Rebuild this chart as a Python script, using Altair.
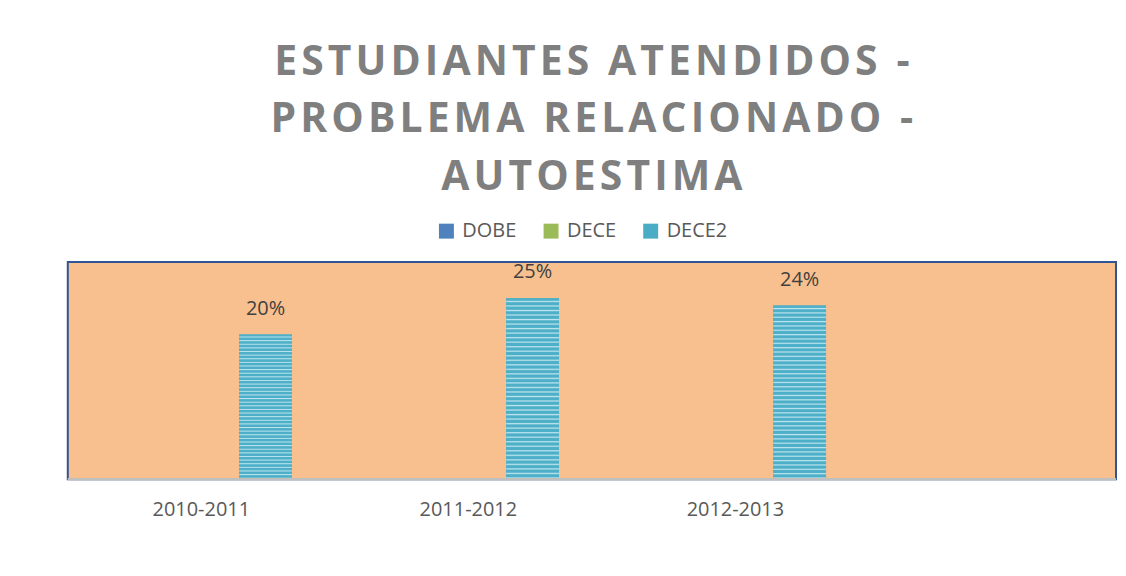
import altair as alt
import pandas as pd

# ---- data ----
years = ["2010-2011", "2011-2012", "2012-2013"]
series_names = ["DOBE", "DECE", "DECE2"]
series_colors = ["#4F81BD", "#9BBB59", "#4BACC6"]
dece2_values = [0.20, 0.25, 0.24]

title_lines = ["ESTUDIANTES ATENDIDOS -", "PROBLEMA RELACIONADO -", "AUTOESTIMA"]

df = pd.DataFrame({
    "periodo": years,
    "serie": ["DECE2"] * len(years),
    "valor": dece2_values,
})

# striped fill for the bars (horizontal stripes)
n_stripes = 40
stops = []
for i in range(n_stripes):
    o = i / n_stripes
    stops.append({"offset": o, "color": "#4DAFC8"})
    stops.append({"offset": o + 0.45 / n_stripes, "color": "#4DAFC8"})
    stops.append({"offset": o + 0.7 / n_stripes, "color": "#BDE4EE"})
stops.append({"offset": 1.0, "color": "#4DAFC8"})
stripe_fill = {"gradient": "linear", "x1": 0, "y1": 0, "x2": 0, "y2": 1, "stops": stops}

x_enc = alt.X("periodo:N",
              scale=alt.Scale(domain=years, paddingInner=0, paddingOuter=0, range=[0, 804]),
              axis=alt.Axis(title=None, ticks=False, domain=False, labelPadding=20,
                            labelFontSize=20, labelColor="#595959", labelFont="Open Sans",
                            labelAngle=0))
xoff_enc = alt.XOffset("serie:N", scale=alt.Scale(domain=series_names, paddingInner=0.178,
                                                  paddingOuter=0.667))
y_enc = alt.Y("valor:Q", scale=alt.Scale(domain=[0, 0.30]), axis=None)

base = alt.Chart(df)

bars_legend = base.mark_bar().encode(
    x=x_enc, xOffset=xoff_enc, y=y_enc,
    color=alt.Color("serie:N",
                    scale=alt.Scale(domain=series_names, range=series_colors),
                    legend=alt.Legend(title=None, orient="none", direction="horizontal",
                                      legendX=370, legendY=-41, symbolType="square",
                                      symbolSize=225, symbolStrokeWidth=0,
                                      labelFontSize=20, labelFont="Open Sans",
                                      labelColor="#595959", labelOffset=6,
                                      columnPadding=24, padding=0)),
)

bars_stripes = base.mark_bar(fill=stripe_fill).encode(
    x=x_enc, xOffset=xoff_enc, y=y_enc,
)

labels = base.mark_text(baseline="alphabetic", dy=-20, fontSize=20, font="Open Sans",
                        color="#404040").encode(
    x=x_enc, xOffset=xoff_enc, y=y_enc,
    text=alt.Text("valor:Q", format=".0%"),
)

# bottom axis line (category axis baseline)
baseline = alt.Chart(pd.DataFrame({"valor": [0.0]})).mark_rule(
    color="#BFBFBF", strokeWidth=2.5
).encode(y=alt.Y("valor:Q", scale=alt.Scale(domain=[0, 0.30]), axis=None))

spaced_title = ["\u200a".join(list(line)) for line in title_lines]

chart = alt.layer(bars_legend, bars_stripes, labels, baseline).properties(
    width=1052,
    height=218,
    background="white",
    padding={"left": 58, "top": 33, "right": 0, "bottom": 10},
    title=alt.TitleParams(text=spaced_title, fontSize=41, font="Open Sans", fontWeight="bold",
                          color="#7F7F7F", lineHeight=58, anchor="middle", offset=22),
).configure_view(
    fill="#F8C08F", stroke="#2F5597", strokeWidth=2,
)

chart.save("out.html", embed_options={"renderer": "svg", "actions": False})
